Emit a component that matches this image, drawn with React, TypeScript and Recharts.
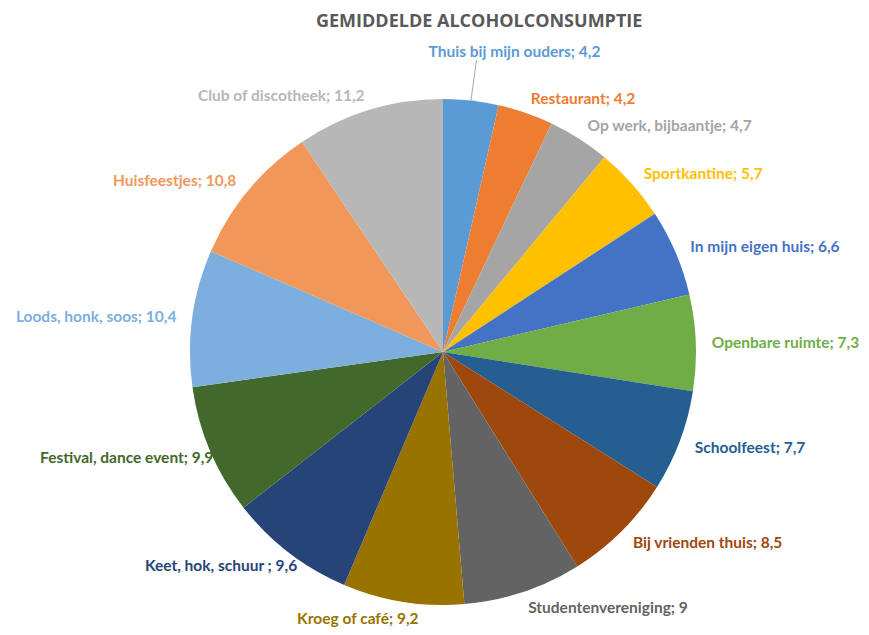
import { PieChart, Pie, Cell } from "recharts";

const places = [
  "Thuis bij mijn ouders",
  "Restaurant",
  "Op werk, bijbaantje",
  "Sportkantine",
  "In mijn eigen huis",
  "Openbare ruimte",
  "Schoolfeest",
  "Bij vrienden thuis",
  "Studentenvereniging",
  "Kroeg of café",
  "Keet, hok, schuur ",
  "Festival, dance event",
  "Loods, honk, soos",
  "Huisfeestjes",
  "Club of discotheek",
];

const averages = [4.2, 4.2, 4.7, 5.7, 6.6, 7.3, 7.7, 8.5, 9, 9.2, 9.6, 9.9, 10.4, 10.8, 11.2];

const colors = [
  "#5B9BD5",
  "#ED7D31",
  "#A5A5A5",
  "#FFC000",
  "#4472C4",
  "#70AD47",
  "#255E91",
  "#9E480E",
  "#636363",
  "#997300",
  "#264478",
  "#43682B",
  "#7CAFDD",
  "#F1975A",
  "#B7B7B7",
];

const data = places.map((name, i) => ({ name, value: averages[i] }));

const RAD = Math.PI / 180;
const fmt = (v: number) => String(v).replace(".", ",");

function renderLabel(props: any) {
  const { cx, cy, midAngle, outerRadius, index, value, name } = props;
  const dx = Math.cos(-midAngle * RAD);
  const dy = Math.sin(-midAngle * RAD);
  // labels near the top get pushed up with a leader line
  const nearTop = dy < -0.98;
  const r = outerRadius + (nearTop ? 50 : 16);
  let x = cx + r * dx;
  const y = cy + r * dy;
  let anchor: "start" | "end" | "middle" = "middle";
  if (dx > 0.15) anchor = "start";
  else if (dx < -0.15) anchor = "end";
  if (anchor === "end" && dy > 0) x += 18;
  if (nearTop) x += 38;
  return (
    <g key={`lbl-${index}`}>
      {nearTop && (
        <line
          x1={cx + outerRadius * dx}
          y1={cy + outerRadius * dy}
          x2={cx + r * dx}
          y2={y + 9}
          stroke="#A6A6A6"
          strokeWidth={1}
        />
      )}
      <text
        x={x}
        y={y}
        textAnchor={anchor}
        dominantBaseline="central"
        fill={colors[index]}
        fontSize={15.5}
        fontWeight="bold"
        fontFamily="Lato, 'Open Sans', sans-serif"
      >
        {`${name}; ${fmt(value)}`}
      </text>
    </g>
  );
}

export default function App() {
  return (
    <div style={{ width: 853, height: 627, position: "relative", background: "#fff" }}>
      <div
        style={{
          position: "absolute",
          top: 0,
          left: 308,
          width: 322,
          textAlign: "center",
          whiteSpace: "nowrap",
          fontFamily: "'Open Sans', sans-serif",
          fontWeight: "bold",
          fontSize: 18,
          color: "#595959",
        }}
      >
        GEMIDDELDE ALCOHOLCONSUMPTIE
      </div>
      <PieChart
        width={861}
        height={627}
        margin={{ top: 0, right: 0, bottom: 0, left: 0 }}
        style={{ overflow: "visible" }}
      >
        <Pie
          data={data}
          dataKey="value"
          nameKey="name"
          cx={435}
          cy={344}
          outerRadius={253}
          startAngle={90}
          endAngle={-270}
          stroke="none"
          label={renderLabel}
          labelLine={false}
          isAnimationActive={false}
        >
          {data.map((d, i) => (
            <Cell key={d.name} fill={colors[i]} />
          ))}
        </Pie>
      </PieChart>
    </div>
  );
}
